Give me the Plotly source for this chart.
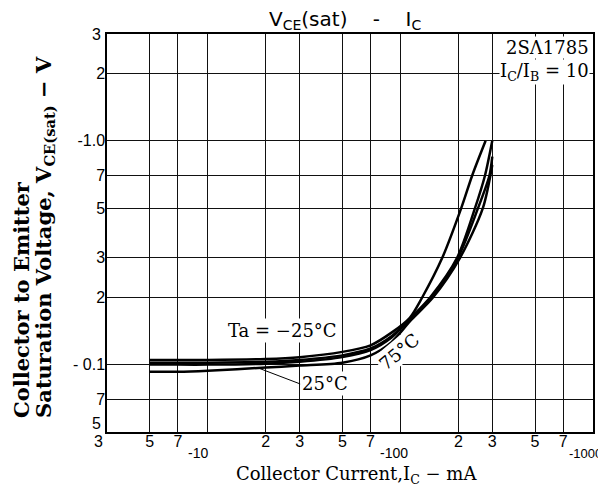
import plotly.graph_objects as go
import math

# ---------------- data ----------------
# Collector current IC (mA) and VCE(sat) (V) for each curve
ic_m25 = [5, 7, 10, 20, 30, 50, 70, 90, 112, 130, 165, 207, 236, 277]
vce_m25 = [0.105, 0.105, 0.105, 0.106, 0.108, 0.114, 0.122, 0.139, 0.162, 0.20, 0.30, 0.50, 0.70, 1.00]

ic_75a = [5, 7, 10, 20, 30, 50, 70, 90, 112, 143, 197, 244, 275, 300]
vce_75a = [0.100, 0.100, 0.100, 0.101, 0.103, 0.108, 0.116, 0.132, 0.160, 0.20, 0.30, 0.50, 0.70, 1.00]

ic_75b = [5, 7, 10, 20, 30, 50, 70, 90, 112, 146, 199, 253, 290, 300]
vce_75b = [0.102, 0.102, 0.102, 0.103, 0.105, 0.110, 0.118, 0.134, 0.160, 0.20, 0.30, 0.50, 0.70, 0.85]

ic_25 = [5, 7, 10, 20, 30, 50, 70, 90, 112, 148, 204, 268, 300]
vce_25 = [0.093, 0.093, 0.094, 0.097, 0.099, 0.102, 0.110, 0.126, 0.156, 0.20, 0.30, 0.50, 0.78]

x_tickvals = [5, 7, 20, 30, 50, 70, 200, 300, 500, 700]
x_ticktext = ["5", "7", "2", "3", "5", "7", "2", "3", "5", "7"]
x_decades = [10, 100]
y_tickvals = [0.07, 0.1, 0.2, 0.3, 0.5, 0.7, 1.0, 2.0]
y_ticktext = ["7", "- 0.1", "2", "3", "5", "7", "-1.0", "2"]

x_range = [3, 1000]
y_range = [0.05, 3]

# ---------------- figure ----------------
fig = go.Figure()
curves = [
    ("Ta = -25°C", ic_m25, vce_m25),
    ("Ta = 75°C", ic_75a, vce_75a),
    ("Ta = 75°C ", ic_75b, vce_75b),
    ("Ta = 25°C", ic_25, vce_25),
]
for name, xs, ys in curves:
    fig.add_trace(go.Scatter(
        x=xs, y=ys, mode="lines", name=name,
        line=dict(color="black", width=2.5, shape="spline", smoothing=0.8),
        showlegend=False,
    ))

serif = "DejaVu Serif"
sans = "Liberation Sans"
grid_col = "#111111"
tick_font = dict(family=sans, size=16, color="black")
dec_font = dict(family=sans, size=14, color="black")

fig.update_layout(
    width=606, height=488,
    # the page adds an 8px body margin; margins are offset to compensate
    margin=dict(l=99, r=21, t=26, b=64),
    paper_bgcolor="white", plot_bgcolor="white",
    showlegend=False,
)

fig.update_xaxes(
    type="log",
    range=[math.log10(x_range[0]), math.log10(x_range[1])],
    tickvals=x_tickvals, ticktext=x_ticktext,
    showgrid=True, gridcolor=grid_col, gridwidth=1,
    minor=dict(tickvals=x_decades, showgrid=True, gridcolor=grid_col, gridwidth=1, ticks=""),
    showline=True, linecolor="black", linewidth=1.5, mirror=True,
    ticks="", zeroline=False, automargin=False,
    tickfont=tick_font,
    ticklabelstandoff=-6,
)
fig.update_yaxes(
    type="log",
    range=[math.log10(y_range[0]), math.log10(y_range[1])],
    tickvals=y_tickvals, ticktext=y_ticktext,
    showgrid=True, gridcolor=grid_col, gridwidth=1,
    showline=True, linecolor="black", linewidth=1.5, mirror=True,
    ticks="", zeroline=False, automargin=False,
    tickfont=tick_font,
    ticklabelstandoff=-3,
)

ann = []
# title
ann.append(dict(text="V<sub>CE</sub>(sat)    -    I<sub>C</sub>", xref="paper", yref="paper",
                x=0.49, y=1.035, xanchor="center", yanchor="middle", showarrow=False,
                font=dict(family="DejaVu Sans", size=20, color="black")))
# edge tick labels and decade labels
ann.append(dict(text="3", xref="paper", yref="paper", x=-0.008, y=0.998, xanchor="right", yanchor="middle",
                showarrow=False, font=tick_font))
ann.append(dict(text="5", xref="paper", yref="paper", x=-0.008, y=0.022, xanchor="right", yanchor="middle",
                showarrow=False, font=tick_font))
ann.append(dict(text="3", xref="paper", yref="paper", x=-0.018, y=-0.025, xanchor="center", yanchor="middle",
                showarrow=False, font=tick_font))
for txt, xp, sz in [("-10", 0.187, 14), ("-100", 0.590, 14), ("-1000", 0.984, 13)]:
    ann.append(dict(text=txt, xref="paper", yref="paper", x=xp, y=-0.053, xanchor="center", yanchor="middle",
                    showarrow=False, font=dict(family=sans, size=sz, color="black")))

# device box
ann.append(dict(text="2SΛ1785", xref="paper", yref="paper", x=0.994, y=0.967, xanchor="right", yanchor="middle",
                showarrow=False, bgcolor="white", borderpad=0, font=dict(family=serif, size=18, color="black")))
ann.append(dict(text="I<sub>C</sub>/I<sub>B</sub> = 10", xref="paper", yref="paper", x=0.994, y=0.905,
                xanchor="right", yanchor="middle", showarrow=False, bgcolor="white", borderpad=0,
                font=dict(family=serif, size=18, color="black")))

# curve labels
ann.append(dict(text="Ta = −25°C", xref="paper", yref="paper", x=0.362, y=0.256, xanchor="center",
                yanchor="middle", showarrow=False, bgcolor="white",
                font=dict(family=serif, size=18, color="black")))
ann.append(dict(text="25°C", xref="paper", yref="paper", x=0.311, y=0.161, ax=42, ay=16,
                xanchor="left", yanchor="middle", showarrow=True,
                arrowhead=0, arrowwidth=1, arrowcolor="black", bgcolor="white",
                font=dict(family=serif, size=18, color="black")))
ann.append(dict(text="75°C", xref="paper", yref="paper", x=0.601, y=0.203, xanchor="center", yanchor="middle",
                textangle=-40, showarrow=False, bgcolor="white",
                font=dict(family=serif, size=18, color="black")))

# axis titles
ann.append(dict(text="<b>Collector to Emitter</b>", xref="paper", yref="paper", x=-0.176, y=0.03,
                xanchor="center", yanchor="bottom", textangle=-90, showarrow=False,
                font=dict(family=serif, size=21, color="black")))
ann.append(dict(text="<b>Saturation Voltage, V<sub>CE(sat)</sub> − V</b>", xref="paper", yref="paper",
                x=-0.130, y=0.03, xanchor="center", yanchor="bottom", textangle=-90, showarrow=False,
                font=dict(family=serif, size=21, color="black")))
ann.append(dict(text="Collector Current,I<sub>C</sub> − mA", xref="paper", yref="paper", x=0.514, y=-0.108,
                xanchor="center", yanchor="middle", showarrow=False,
                font=dict(family=serif, size=18, color="black")))

fig.update_layout(annotations=ann)
fig.write_html("out.html")
